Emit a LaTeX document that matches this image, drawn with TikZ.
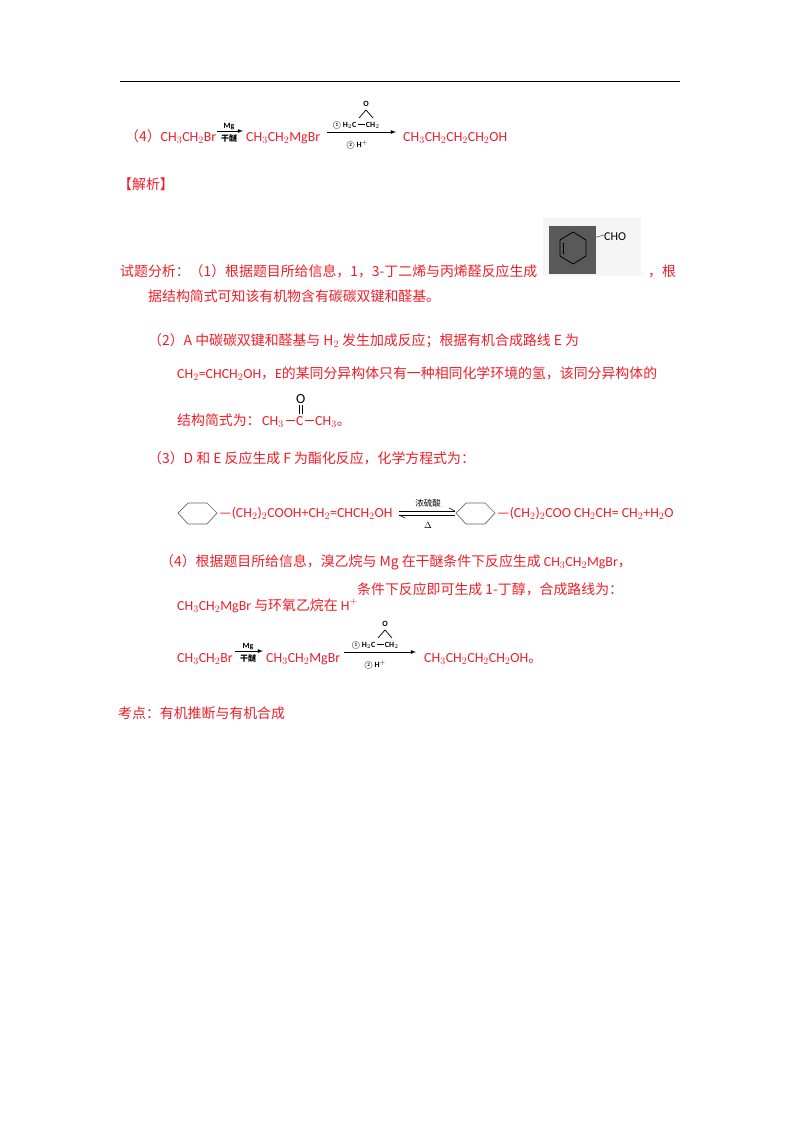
\documentclass[tikz,border=0pt]{standalone}
\usepackage{fontspec}
\setmainfont{Carlito}
\newfontfamily\cjk{Noto Sans CJK SC}
\definecolor{myred}{RGB}{238,30,40}
\begin{document}
\begin{tikzpicture}[x=1pt,y=-1pt,
 t/.style={anchor=base west,inner sep=0,text=myred,font=\fontsize{13.9}{15}\selectfont},
 s/.style={anchor=base,inner sep=0,font=\bfseries\fontsize{8}{9}\selectfont},
 hx/.style={draw=black!60,line width=0.7pt}]
\useasboundingbox (0,0) rectangle (800,1132);
\draw[black,line width=0.8pt] (120,81) -- (680,81);
% (4) line
\node[t] (a1) at (125,141) {{\cjk （4）}CH$_3$CH$_2$Br};
\draw[-latex,line width=0.8pt] (217,131) -- (243,131);
\node[s] (m1) at (229,128) {Mg};
\node[s] (m2) at (229,141) {\cjk 干醚};
\node[t] (a2) at (246,141) {CH$_3$CH$_2$MgBr};
\draw[-latex,line width=0.8pt] (327,132) -- (396,132);
\node[s] (e1) at (356,127) {\textcircled{\tiny 1} H$_2$C\,\raisebox{2pt}{\rule{7pt}{0.6pt}}\,CH$_2$};
\draw[line width=0.7pt] (359,118) -- (366,110) -- (373,118); \node[s] at (366,106) {O};
\node[s] (e2) at (357,147) {\textcircled{\tiny 2} H$^+$};
\node[t] (a3) at (403,141) {CH$_3$CH$_2$CH$_2$CH$_2$OH};
\node[t] (jx) at (118,189) {\cjk 【解析】};
% (1)
\node[t] (l1) at (120,276) {\cjk 试题分析：（1）根据题目所给信息，1，3-丁二烯与丙烯醛反应生成};
\fill[black!4] (543,218) rectangle (641,276);
\fill[black!65] (549,226) rectangle (596,274);
\draw[black,line width=0.8pt] (573,232) -- (586,240) -- (586,256) -- (573,264) -- (560,256) -- (560,240) -- cycle;
\draw[black,line width=0.8pt] (563,243) -- (563,254);
\draw[black!70!yellow,line width=0.6pt] (586,240) -- (604,235);
\node[anchor=base west,inner sep=0,font=\fontsize{12}{12}\selectfont] (cho) at (604,240) {CHO};
\node[t] (l1b) at (648,276) {\cjk ，根};
\node[t] (l2) at (148,301) {\cjk 据结构简式可知该有机物含有碳碳双键和醛基。};
% (2)
\node[t] (p2) at (148,345) {\cjk （2）A 中碳碳双键和醛基与 H{\rmfamily$_2$} 发生加成反应；根据有机合成路线 E 为};
\node[t] (p2b) at (177,378) {CH$_2$=CHCH$_2$OH{\cjk ，}E{\cjk 的某同分异构体只有一种相同化学环境的氢，该同分异构体的}};
\node[t] (p2c) at (177,425) {\cjk 结构简式为：};
\node[t] (ac1) at (262,425) {CH$_3$};
\draw[myred,line width=0.6pt] (286,420) -- (295,420);
\node[t] (ac2) at (296,425) {C};
\draw[myred,line width=0.6pt] (305,420) -- (314,420);
\node[t] (ac3) at (315,425) {CH$_3${\cjk 。}};
\node[t,text=black] (ao) at (296,403) {O};
\draw[black,line width=0.5pt] (299,405) -- (299,414) (302,405) -- (302,414);
% (3)
\node[t] (p3) at (148,463) {\cjk （3）D 和 E 反应生成 F 为酯化反应，化学方程式为：};
\draw[hx] (178,513) -- (188,503) -- (207,503) -- (217,513) -- (207,524) -- (188,524) -- cycle;
\node[t] (q1) at (219,517) {—(CH$_2$)$_2$COOH+CH$_2$=CHCH$_2$OH};
\draw[line width=0.6pt] (399,511) -- (455,511) (399,515) -- (455,515);
\draw[line width=0.6pt] (449,508) -- (455,511) (399,515) -- (405,518);
\node[s,font=\fontsize{8.5}{9}\selectfont] (q2) at (428,506) {\cjk 浓硫酸};
\node[s,font=\fontsize{9}{9}\selectfont] (q3) at (428,528) {$\Delta$};
\draw[hx] (456,513) -- (466,503) -- (485,503) -- (495,513) -- (485,524) -- (466,524) -- cycle;
\node[t] (q4) at (497,517) {—(CH$_2$)$_2$COO CH$_2$CH= CH$_2$+H$_2$O};
% (4)
\node[t] (p4) at (160,566) {\cjk （4）根据题目所给信息，溴乙烷与 Mg 在干醚条件下反应生成 {\rmfamily CH$_3$CH$_2$MgBr}，};
\node[t] (p4b) at (357,594) {\cjk 条件下反应即可生成 1-丁醇，合成路线为：};
\node[t] (p4c) at (177,610) {CH$_3$CH$_2$MgBr {\cjk 与环氧乙烷在} H$^+$};
\node[t] (b1) at (177,662) {CH$_3$CH$_2$Br};
\draw[-latex,line width=0.8pt] (235,651) -- (263,651);
\node[s] (n1) at (248,648) {Mg};
\node[s] (n2) at (248,661) {\cjk 干醚};
\node[t] (b2) at (266,662) {CH$_3$CH$_2$MgBr};
\draw[-latex,line width=0.8pt] (344,652) -- (416,652);
\node[s] (f1) at (375,647) {\textcircled{\tiny 1} H$_2$C\,\raisebox{2pt}{\rule{7pt}{0.6pt}}\,CH$_2$};
\draw[line width=0.7pt] (378,638) -- (385,630) -- (392,638); \node[s] at (385,626) {O};
\node[s] (f2) at (375,667) {\textcircled{\tiny 2} H$^+$};
\node[t] (b3) at (424,662) {CH$_3$CH$_2$CH$_2$CH$_2$OH{\cjk 。}};
\node[t] (kd) at (118,718) {\cjk 考点：有机推断与有机合成};
\end{tikzpicture}
\end{document}
